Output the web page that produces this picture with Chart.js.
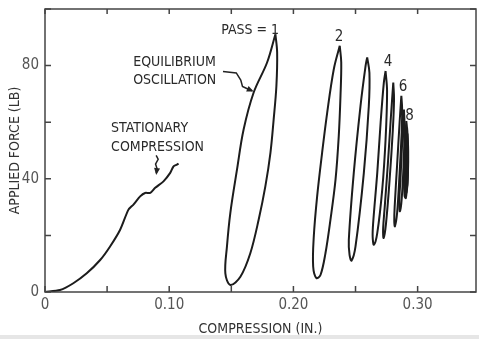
<!DOCTYPE html>
<html>
<head>
<meta charset="utf-8">
<script src="https://cdn.jsdelivr.net/npm/chart.js@4.4.1/dist/chart.umd.min.js"></script>
<style>
  html, body { margin: 0; padding: 0; background: #fff; }
</style>
</head>
<body>
<canvas id="myChart" width="479" height="339"></canvas>
<script>
// stationary compression curve (x = compression in., y = force lb)
var stationary = [
  [0, 0], [0.0121, 0.7], [0.0228, 3.1], [0.0336, 6.6], [0.0444, 11.3],
  [0.0524, 16.1], [0.0605, 22.0], [0.0672, 29.1], [0.0712, 30.9],
  [0.0766, 33.8], [0.0806, 35.0], [0.0847, 35.0], [0.0887, 36.8],
  [0.0954, 39.1], [0.1008, 42.1], [0.1035, 44.4], [0.1062, 45.0], [0.1075, 45.4]
];

// equilibrium oscillation loops, one per pass
var pass1 = [
  [0.1855, 91.1], [0.1788, 81.1], [0.1680, 70.5], [0.1599, 57.4], [0.1546, 43.3],
  [0.1492, 27.9], [0.1465, 16.1], [0.1452, 6.6], [0.1492, 2.5], [0.1573, 5.4],
  [0.1653, 13.7], [0.1720, 25.5], [0.1774, 37.3], [0.1815, 49.2], [0.1841, 61.0],
  [0.1863, 72.8], [0.1869, 84.6], [0.1855, 91.1]
];
var pass2 = [
  [0.2373, 87.0], [0.2325, 78.7], [0.2272, 63.4], [0.2231, 49.2], [0.2191, 33.8],
  [0.2164, 19.6], [0.2159, 9.0], [0.2185, 4.9], [0.2218, 6.0], [0.2258, 13.7],
  [0.2298, 25.5], [0.2339, 39.7], [0.2365, 55.1], [0.2379, 69.3], [0.2385, 81.1],
  [0.2373, 87.0]
];
var pass3 = [
  [0.2594, 82.9], [0.2581, 79.9], [0.2540, 65.7], [0.2486, 42.1], [0.2446, 18.4],
  [0.2452, 13.1], [0.2468, 11.1], [0.2500, 16.1], [0.2567, 42.1], [0.2607, 65.7],
  [0.2612, 77.5], [0.2594, 82.9]
];
var pass4 = [
  [0.2742, 78.1], [0.2728, 74.0], [0.2702, 59.8], [0.2675, 42.1], [0.2642, 24.4],
  [0.2638, 19.5], [0.2648, 16.7], [0.2675, 20.8], [0.2715, 36.2], [0.2742, 53.9],
  [0.2754, 71.0], [0.2742, 78.1]
];
var pass5 = [
  [0.2804, 74.0], [0.2785, 62], [0.2760, 45], [0.2735, 30], [0.2722, 22],
  [0.2726, 19.1], [0.2745, 24], [0.2775, 40], [0.2800, 57], [0.2810, 68], [0.2804, 74.0]
];
var pass6 = [
  [0.2869, 69.3], [0.2855, 60], [0.2835, 45], [0.2815, 30], [0.2812, 25],
  [0.2817, 23.2], [0.2835, 28], [0.2855, 42], [0.2873, 58], [0.2875, 65], [0.2869, 69.3]
];
var pass7 = [
  [0.2890, 64.5], [0.2878, 55], [0.2862, 40], [0.2852, 32], [0.2857, 28.5],
  [0.2872, 33], [0.2888, 46], [0.2895, 58], [0.2890, 64.5]
];
var pass8 = [
  [0.2909, 60.4], [0.2898, 52], [0.2890, 40], [0.2895, 34], [0.2905, 33.2],
  [0.2915, 38], [0.2920, 50], [0.2916, 57], [0.2909, 60.4]
];
var pass9 = [
  [0.2915, 58], [0.2905, 50], [0.2900, 40], [0.2908, 35], [0.2918, 38],
  [0.2922, 48], [0.2915, 58]
];
var pass10 = [
  [0.2918, 56], [0.2910, 48], [0.2908, 40], [0.2914, 37], [0.2922, 42],
  [0.2924, 50], [0.2918, 56]
];

var xTickLabels = { "0": "0", "0.1": "0.10", "0.2": "0.20", "0.3": "0.30" };
var yTickLabels = [0, 40, 80];

// text notes on the plot, placed in data units
var notes = [
  { text: "PASS = 1", x: 0.1885, y: 92.6, align: "right", size: 14 },
  { text: "2", x: 0.2367, y: 90.1, align: "center", size: 15 },
  { text: "4", x: 0.2762, y: 81.2, align: "center", size: 15 },
  { text: "6", x: 0.2883, y: 72.4, align: "center", size: 15 },
  { text: "8", x: 0.2935, y: 62.1, align: "center", size: 15 },
  { text: "EQUILIBRIUM", x: 0.071, y: 81.1, align: "left", size: 14 },
  { text: "OSCILLATION", x: 0.071, y: 74.7, align: "left", size: 14 },
  { text: "STATIONARY", x: 0.0532, y: 57.7, align: "left", size: 14 },
  { text: "COMPRESSION", x: 0.0532, y: 51.2, align: "left", size: 14 }
];
var arrowEq = [[0.1433, 77.9], [0.1540, 77.4], [0.1576, 74.9], [0.1590, 72.6], [0.1620, 72.0], [0.1666, 71.1]];
var arrowSt = [[0.0895, 48.3], [0.0911, 46.9], [0.0890, 45.2], [0.0902, 43.6], [0.0897, 42.0]];

var FONT = "'DejaVu Sans Condensed', 'Liberation Sans Narrow', 'DejaVu Sans', sans-serif";

function pts(a) {
  return a.map(function (p) { return { x: p[0], y: p[1] }; });
}

function loop(a, t) {
  return {
    data: pts(a),
    showLine: true,
    borderColor: "#1c1c1c",
    borderWidth: 2,
    pointRadius: 0,
    tension: t,
    fill: false
  };
}

var framePlugin = {
  id: "frame",
  afterDraw: function (chart) {
    var ctx = chart.ctx, a = chart.chartArea;
    var xs = chart.scales.x, ys = chart.scales.y;
    ctx.save();
    ctx.strokeStyle = "#444";
    ctx.lineWidth = 1.5;
    ctx.strokeRect(a.left, a.top, a.right - a.left, a.bottom - a.top);
    // inward tick marks on all four sides
    ctx.beginPath();
    xs.ticks.forEach(function (t) {
      var px = xs.getPixelForValue(t.value);
      ctx.moveTo(px, a.bottom); ctx.lineTo(px, a.bottom - 6);
      ctx.moveTo(px, a.top); ctx.lineTo(px, a.top + 5);
    });
    ys.ticks.forEach(function (t) {
      var py = ys.getPixelForValue(t.value);
      ctx.moveTo(a.left, py); ctx.lineTo(a.left + 6, py);
      ctx.moveTo(a.right, py); ctx.lineTo(a.right - 6, py);
    });
    ctx.stroke();

    // notes
    ctx.fillStyle = "#2a2a2a";
    ctx.textBaseline = "middle";
    notes.forEach(function (n) {
      ctx.font = n.size + "px " + FONT;
      ctx.textAlign = n.align;
      ctx.fillText(n.text, xs.getPixelForValue(n.x), ys.getPixelForValue(n.y));
    });

    // squiggly arrows
    [arrowEq, arrowSt].forEach(function (arr) {
      ctx.strokeStyle = "#222";
      ctx.lineWidth = 1.5;
      ctx.beginPath();
      arr.forEach(function (p, i) {
        var px = xs.getPixelForValue(p[0]), py = ys.getPixelForValue(p[1]);
        if (i === 0) ctx.moveTo(px, py); else ctx.lineTo(px, py);
      });
      ctx.stroke();
      var n = arr.length;
      var x1 = xs.getPixelForValue(arr[n - 2][0]), y1 = ys.getPixelForValue(arr[n - 2][1]);
      var x2 = xs.getPixelForValue(arr[n - 1][0]), y2 = ys.getPixelForValue(arr[n - 1][1]);
      var ang = Math.atan2(y2 - y1, x2 - x1);
      ctx.fillStyle = "#222";
      ctx.beginPath();
      ctx.moveTo(x2 + 2 * Math.cos(ang), y2 + 2 * Math.sin(ang));
      ctx.lineTo(x2 - 5 * Math.cos(ang) + 3 * Math.sin(ang), y2 - 5 * Math.sin(ang) - 3 * Math.cos(ang));
      ctx.lineTo(x2 - 5 * Math.cos(ang) - 3 * Math.sin(ang), y2 - 5 * Math.sin(ang) + 3 * Math.cos(ang));
      ctx.closePath();
      ctx.fill();
    });

    // grey scan edge at the bottom
    ctx.fillStyle = "rgba(226,226,226,0.85)";
    ctx.fillRect(0, 335, chart.width, 4);
    ctx.restore();
  }
};

new Chart("myChart", {
  type: "scatter",
  data: {
    datasets: [
      loop(stationary, 0.25),
      loop(pass1, 0.35),
      loop(pass2, 0.35),
      loop(pass3, 0.35),
      loop(pass4, 0.35),
      loop(pass5, 0.35),
      loop(pass6, 0.35),
      loop(pass7, 0.35),
      loop(pass8, 0.35),
      loop(pass9, 0.35),
      loop(pass10, 0.35)
    ]
  },
  options: {
    responsive: false,
    animation: false,
    layout: { padding: { left: 0, right: 3, top: 0, bottom: 0 } },
    plugins: {
      legend: { display: false },
      tooltip: { enabled: false }
    },
    scales: {
      x: {
        type: "linear",
        min: 0,
        max: 0.347,
        grid: { display: false, drawTicks: false },
        border: { display: false },
        afterFit: function (s) { s.height = 47; s.paddingLeft = 0; s.paddingRight = 0; },
        ticks: {
          stepSize: 0.05,
          includeBounds: false,
          padding: 4,
          color: "#555",
          font: { family: FONT, size: 15 },
          maxRotation: 0,
          autoSkip: false,
          callback: function (v) {
            var k = String(Math.round(v * 100) / 100);
            return xTickLabels[k] !== undefined ? xTickLabels[k] : "";
          }
        },
        title: {
          display: true,
          text: "COMPRESSION (IN.)",
          color: "#333",
          font: { family: FONT, size: 14 },
          padding: { top: 0, bottom: 1 }
        }
      },
      y: {
        type: "linear",
        min: 0,
        max: 100,
        grid: { display: false, drawTicks: false },
        border: { display: false },
        afterFit: function (s) { s.width = 45; s.paddingTop = 9; s.paddingBottom = 0; },
        ticks: {
          stepSize: 20,
          padding: 6,
          color: "#555",
          font: { family: FONT, size: 15 },
          callback: function (v) {
            return yTickLabels.indexOf(v) >= 0 ? String(v) : "";
          }
        },
        title: {
          display: true,
          text: "APPLIED FORCE (LB)",
          color: "#333",
          font: { family: FONT, size: 14 },
          padding: { top: 7, bottom: 0 }
        }
      }
    }
  },
  plugins: [framePlugin]
});
</script>
</body>
</html>
